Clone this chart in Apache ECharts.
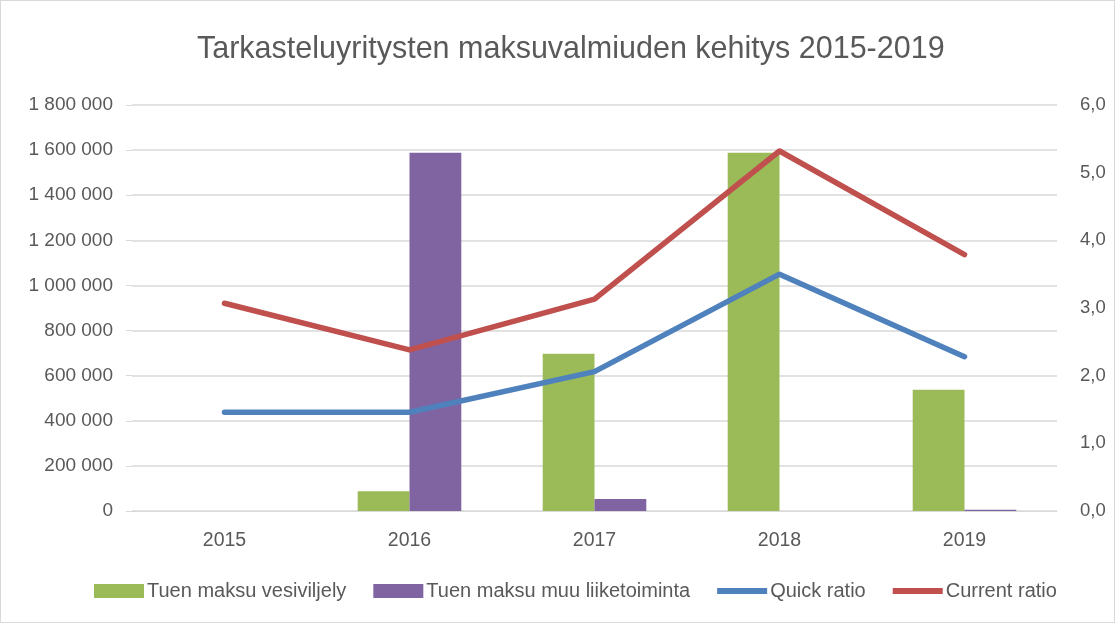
<!DOCTYPE html>
<html>
<head>
<meta charset="utf-8">
<script src="https://cdn.jsdelivr.net/npm/echarts@6/dist/echarts.min.js"></script>
<style>
  html, body { margin: 0; padding: 0; background: #fff; }
  #chart { width: 1115px; height: 623px; box-sizing: border-box; border: 1px solid #d9d9d9; }
</style>
</head>
<body>
<div id="chart"></div>
<script>
var years = ['2015', '2016', '2017', '2018', '2019'];
var vesiviljely = [0, 88000, 697000, 1588000, 538000];
var muuLiiketoiminta = [0, 1588000, 53000, 0, 5000];
var quickRatio = [1.46, 1.46, 2.06, 3.50, 2.28];
var currentRatio = [3.07, 2.38, 3.13, 5.32, 3.79];

var FONT = '"Liberation Sans", Arial, sans-serif';
var GREY = '#595959';

function spaced(v) {
  return String(v).replace(/\B(?=(\d{3})+(?!\d))/g, ' ');
}

var chart = echarts.init(document.getElementById('chart'));

var option = {
  title: {
    text: 'Tarkasteluyritysten maksuvalmiuden kehitys 2015-2019',
    left: 191,
    top: 28,
    textStyle: { fontFamily: FONT, fontSize: 30.5, fontWeight: 'normal', color: GREY }
  },
  grid: { left: 131, right: 57, top: 104, bottom: 111 },
  legend: {
    bottom: 16,
    left: 88,
    itemWidth: 50,
    itemHeight: 14,
    itemGap: 27,
    textStyle: { fontFamily: FONT, fontSize: 20, color: GREY, padding: [0, 0, 0, -2] },
    data: [
      { name: 'Tuen maksu vesiviljely', icon: 'rect' },
      { name: 'Tuen maksu muu liiketoiminta', icon: 'rect' },
      { name: 'Quick ratio', icon: 'path://M0,0 L50,0 L50,6 L0,6 Z' },
      { name: 'Current ratio', icon: 'path://M0,0 L50,0 L50,6 L0,6 Z' }
    ]
  },
  xAxis: {
    type: 'category',
    data: years,
    axisLine: { lineStyle: { color: '#d9d9d9', width: 1 } },
    axisTick: { show: false },
    axisLabel: { fontFamily: FONT, fontSize: 19.5, color: GREY, margin: 20 }
  },
  yAxis: [
    {
      type: 'value',
      min: 0,
      max: 1800000,
      interval: 200000,
      axisLine: { show: false },
      axisTick: { show: true, length: 6, lineStyle: { color: '#d9d9d9' } },
      splitLine: { lineStyle: { color: '#d9d9d9', width: 1.5 } },
      axisLabel: { fontFamily: FONT, fontSize: 19, color: GREY, margin: 19, formatter: spaced }
    },
    {
      type: 'value',
      min: 0,
      max: 6,
      interval: 1,
      axisLine: { show: false },
      axisTick: { show: false },
      splitLine: { show: false },
      axisLabel: {
        fontFamily: FONT, fontSize: 18.5, color: GREY, margin: 23,
        formatter: function (v) { return v.toFixed(1).replace('.', ','); }
      }
    }
  ],
  series: [
    {
      name: 'Tuen maksu vesiviljely',
      type: 'bar',
      data: vesiviljely,
      barGap: '0%',
      barCategoryGap: '44%',
      itemStyle: { color: '#9bbb59' }
    },
    {
      name: 'Tuen maksu muu liiketoiminta',
      type: 'bar',
      data: muuLiiketoiminta,
      itemStyle: { color: '#8064a2' }
    },
    {
      name: 'Quick ratio',
      type: 'line',
      yAxisIndex: 1,
      data: quickRatio,
      symbol: 'none',
      lineStyle: { color: '#4f81bd', width: 5.5, cap: 'round', join: 'round' },
      itemStyle: { color: '#4f81bd' }
    },
    {
      name: 'Current ratio',
      type: 'line',
      yAxisIndex: 1,
      data: currentRatio,
      symbol: 'none',
      lineStyle: { color: '#c0504d', width: 5.5, cap: 'round', join: 'round' },
      itemStyle: { color: '#c0504d' }
    }
  ]
};

chart.setOption(option);
</script>
</body>
</html>
